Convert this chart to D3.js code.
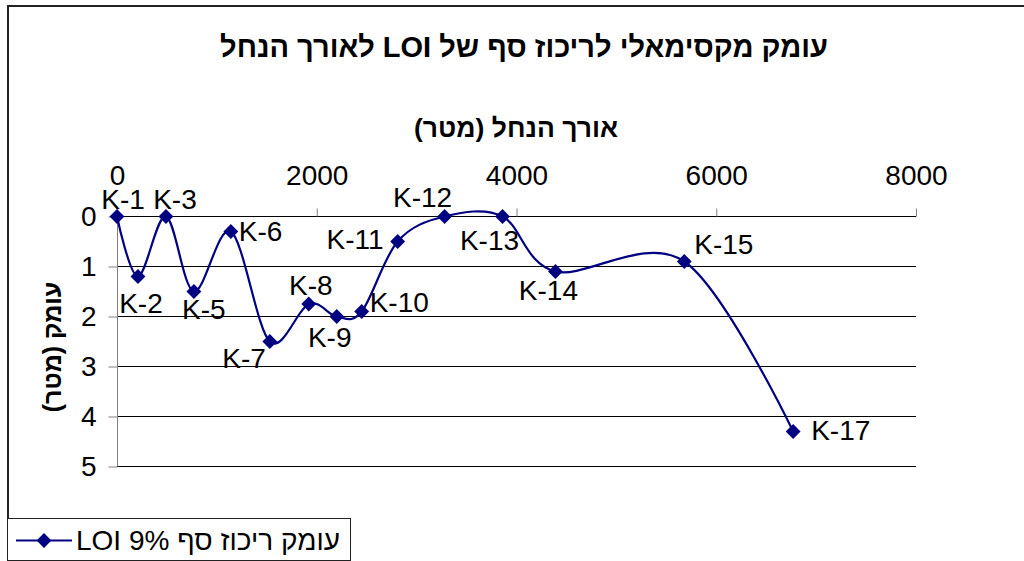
<!DOCTYPE html>
<head>
  <meta charset="utf-8">
  <script src="https://d3js.org/d3.v7.min.js"></script>
  <style>
    body { margin: 0; background: #fff; }
    text { font-family: "Liberation Sans", Arial, sans-serif; fill: #000; }
    .title { font-weight: bold; }
  </style>
</head>
<body>
  <svg id="chart"></svg>
  <script>
    // data
    var stations = ["K-1", "K-2", "K-3", "K-5", "K-6", "K-7", "K-8", "K-9", "K-10", "K-11", "K-12", "K-13", "K-14", "K-15", "K-17"];
    var distance = [0, 210, 490, 770, 1140, 1530, 1920, 2200, 2450, 2810, 3280, 3860, 4390, 5680, 6770];
    var depth = [0, 1.2, 0, 1.5, 0.3, 2.5, 1.75, 2.0, 1.9, 0.5, 0, 0, 1.1, 0.9, 4.3];
    var xTicks = [0, 2000, 4000, 6000, 8000];
    var yTicks = [0, 1, 2, 3, 4, 5];

    var chartTitle = "עומק מקסימאלי לריכוז סף של LOI לאורך הנחל";
    var xTitle = "אורך הנחל (מטר)";
    var yTitle = "עומק (מטר)";
    var seriesName = "עומק ריכוז סף 9% LOI";

    // where each data label sits next to its point [dx, dy, anchor]
    var labelOffsets = [
      [6, -8, "middle"], [3, 36, "middle"], [9, -8, "middle"], [10, 27, "middle"],
      [8, 9, "start"], [-4, 26, "end"], [2, -9, "middle"], [-7, 30, "middle"],
      [8, 0, "start"], [-14, 7, "end"], [-22, -10, "middle"], [-13, 33, "middle"],
      [-7, 28, "middle"], [10, -8, "start"], [18, 8, "start"]
    ];

    var width = 1024, height = 561;
    var navy = "#000080";

    var svg = d3.select("#chart")
      .attr("width", width)
      .attr("height", height);

    var x = d3.scaleLinear().domain([0, 8000]).range([117, 916]);
    var y = d3.scaleLinear().domain([0, 5]).range([216.5, 466.5]);

    var data = stations.map(function(s, i) {
      return { name: s, dist: distance[i], depth: depth[i], off: labelOffsets[i] };
    });

    //chart area border (runs off the right side)
    svg.append("rect")
      .attr("x", 8).attr("y", 6)
      .attr("width", 1040).attr("height", 620)
      .attr("fill", "none")
      .attr("stroke", "#222")
      .attr("stroke-width", 2);

    //title
    svg.append("text")
      .attr("class", "title")
      .attr("x", 524).attr("y", 57)
      .attr("direction", "rtl")
      .attr("text-anchor", "middle")
      .style("font-size", "29px")
      .text(chartTitle);

    svg.append("text")
      .attr("class", "title")
      .attr("x", 516).attr("y", 137)
      .attr("direction", "rtl")
      .attr("text-anchor", "middle")
      .style("font-size", "26.5px")
      .text(xTitle);

    svg.append("text")
      .attr("class", "title")
      .attr("transform", "translate(61,347) rotate(-90)")
      .attr("direction", "rtl")
      .attr("text-anchor", "middle")
      .style("font-size", "25px")
      .text(yTitle);

    //gridlines
    svg.append("g")
      .selectAll("line")
      .data(yTicks).enter()
      .append("line")
      .attr("x1", x(0)).attr("x2", x(8000))
      .attr("y1", function(d) { return y(d); })
      .attr("y2", function(d) { return y(d); })
      .attr("stroke", "#000")
      .attr("stroke-width", 1);

    //x axis on top
    var xAxis = d3.axisTop(x).tickValues(xTicks).tickSize(8).tickPadding(24).tickFormat(d3.format("d"));
    var gx = svg.append("g")
      .attr("transform", "translate(0," + y(0) + ")")
      .call(xAxis);
    gx.select(".domain").remove();
    gx.selectAll("line").attr("stroke", "#808080");
    gx.selectAll("text")
      .style("font-size", "28px")
      .style("font-family", "'Liberation Sans', Arial, sans-serif");

    //y axis
    var yAxis = d3.axisLeft(y).tickValues(yTicks).tickSize(9).tickPadding(12).tickFormat(d3.format("d"));
    var gy = svg.append("g")
      .attr("transform", "translate(" + (x(0) + 0.5) + ",0)")
      .call(yAxis);
    gy.select(".domain").attr("stroke", "#808080").attr("d", "M0," + y(0) + "V" + y(5));
    gy.selectAll("line").attr("stroke", "#808080");
    gy.selectAll("text")
      .style("font-size", "28px")
      .style("font-family", "'Liberation Sans', Arial, sans-serif");

    //the smoothed series line
    var line = d3.line()
      .x(function(d) { return x(d.dist); })
      .y(function(d) { return y(d.depth); })
      .curve(d3.curveCardinal.tension(0));

    svg.append("path")
      .datum(data)
      .attr("d", line)
      .attr("fill", "none")
      .attr("stroke", navy)
      .attr("stroke-width", 2.2);

    var diamond = d3.symbol().type(d3.symbolSquare).size(110);

    svg.append("g")
      .selectAll("path")
      .data(data).enter()
      .append("path")
      .attr("d", diamond)
      .attr("transform", function(d) { return "translate(" + x(d.dist) + "," + y(d.depth) + ") rotate(45)"; })
      .attr("fill", navy);

    //data labels
    svg.append("g")
      .selectAll("text")
      .data(data).enter()
      .append("text")
      .attr("x", function(d) { return x(d.dist) + d.off[0]; })
      .attr("y", function(d) { return y(d.depth) + d.off[1]; })
      .attr("text-anchor", function(d) { return d.off[2]; })
      .style("font-size", "28px")
      .text(function(d) { return d.name; });

    //legend
    var legend = svg.append("g");
    legend.append("rect")
      .attr("x", 7.5).attr("y", 518.5)
      .attr("width", 343).attr("height", 42)
      .attr("fill", "#fff")
      .attr("stroke", "#222")
      .attr("stroke-width", 1);
    legend.append("line")
      .attr("x1", 16).attr("x2", 72)
      .attr("y1", 540.5).attr("y2", 540.5)
      .attr("stroke", navy)
      .attr("stroke-width", 2.2);
    legend.append("path")
      .attr("d", diamond)
      .attr("transform", "translate(44,540.5) rotate(45)")
      .attr("fill", navy);
    legend.append("text")
      .attr("x", 208).attr("y", 550)
      .attr("direction", "rtl")
      .attr("text-anchor", "middle")
      .style("font-size", "28px")
      .text(seriesName);
  </script>
</body>
